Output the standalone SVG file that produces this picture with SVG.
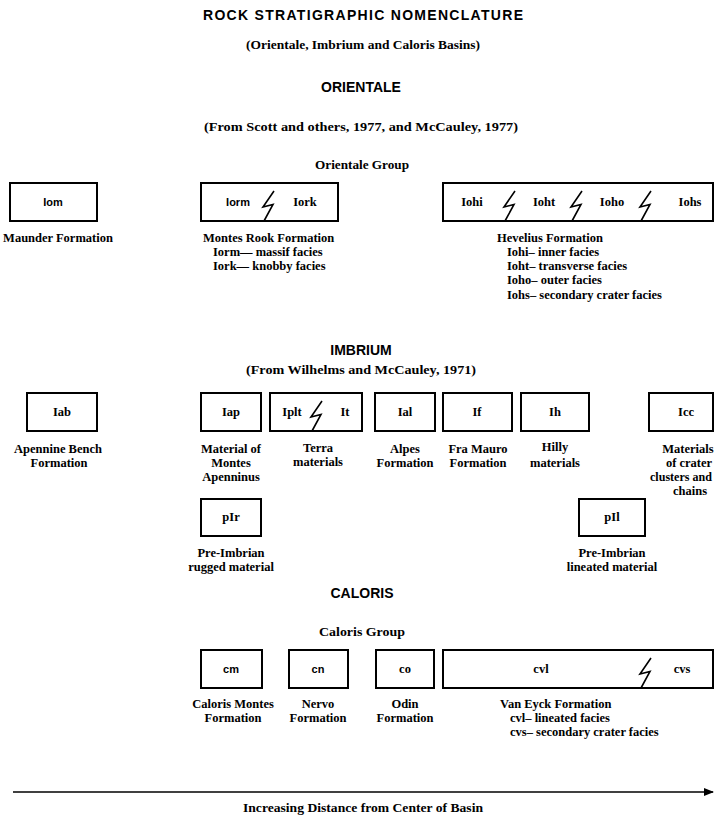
<svg xmlns="http://www.w3.org/2000/svg" xmlns:xlink="http://www.w3.org/1999/xlink" width="714" height="815" viewBox="0 0 714 815">
<style>
.bx{fill:#fff;stroke:#000;stroke-width:2}
.zz{fill:none;stroke:#000;stroke-width:1.6;stroke-linejoin:miter}
.h{font-family:"Liberation Sans",Arial,sans-serif;font-size:14px;font-weight:bold;text-anchor:middle;fill:#000}
.t{font-family:"Liberation Serif","Times New Roman",serif;font-size:12.5px;font-weight:bold;fill:#000}
.st{font-size:13.5px}
.c{text-anchor:middle}
.s{font-family:"Liberation Sans",Arial,sans-serif;font-size:11px;font-weight:bold;text-anchor:middle;fill:#000}
</style>
<defs>
<path id="zz" d="M6,8 L-5,24 L5,21.5 L-4,38" class="zz"/>
<marker id="ah" markerWidth="10" markerHeight="8" refX="9" refY="4" orient="auto" markerUnits="userSpaceOnUse"><path d="M0,0 L10,4 L0,8 Z" fill="#000"/></marker>
</defs>
<rect width="714" height="815" fill="#fff"/>

<text class="h" x="363" y="20" textLength="320">ROCK STRATIGRAPHIC NOMENCLATURE</text>
<text class="t st c" x="363" y="49" textLength="234" lengthAdjust="spacingAndGlyphs">(Orientale, Imbrium and Caloris Basins)</text>
<text class="h" x="361" y="92">ORIENTALE</text>
<text class="t st c" x="361" y="131" textLength="314" lengthAdjust="spacingAndGlyphs">(From Scott and others, 1977, and McCauley, 1977)</text>
<text class="t st c" x="362" y="169" textLength="94" lengthAdjust="spacingAndGlyphs">Orientale Group</text>

<g id="iom">
<rect class="bx" x="10" y="183" width="87" height="38"/>
<text class="s" x="53" y="206">Iom</text>
<text class="t c" x="58" y="242">Maunder Formation</text>
</g>
<g id="montes-rook">
<rect class="bx" x="201" y="183" width="137" height="38"/>
<use xlink:href="#zz" x="268" y="183"/>
<text class="s" x="238" y="206">Iorm</text>
<text class="t c" x="305" y="206">Iork</text>
<text class="t" x="203" y="242">Montes Rook Formation</text>
<text class="t" x="213" y="256">Iorm— massif facies</text>
<text class="t" x="213" y="270">Iork—  knobby facies</text>
</g>
<g id="hevelius">
<rect class="bx" x="443" y="183" width="270" height="38"/>
<use xlink:href="#zz" x="509" y="183"/>
<use xlink:href="#zz" x="576" y="183"/>
<use xlink:href="#zz" x="645" y="183"/>
<text class="t c" x="472" y="206">Iohi</text>
<text class="t c" x="544" y="206">Ioht</text>
<text class="t c" x="612" y="206">Ioho</text>
<text class="t c" x="690" y="206">Iohs</text>
<text class="t" x="497" y="242">Hevelius Formation</text>
<text class="t" x="507" y="256">Iohi–  inner facies</text>
<text class="t" x="507" y="270">Ioht–  transverse facies</text>
<text class="t" x="507" y="284">Ioho– outer facies</text>
<text class="t" x="507" y="299">Iohs–  secondary crater facies</text>
</g>

<text class="h" x="361" y="355">IMBRIUM</text>
<text class="t st c" x="361" y="374" textLength="230" lengthAdjust="spacingAndGlyphs">(From Wilhelms and McCauley, 1971)</text>

<g id="iab">
<rect class="bx" x="27" y="393" width="70" height="38"/>
<text class="t c" x="62" y="416">Iab</text>
<text class="t c" x="58" y="453">Apennine Bench</text>
<text class="t c" x="59" y="467">Formation</text>
</g>
<g id="iap">
<rect class="bx" x="201" y="393" width="60" height="38"/>
<text class="t c" x="231" y="416">Iap</text>
<text class="t c" x="231" y="453">Material of</text>
<text class="t c" x="231" y="467">Montes</text>
<text class="t c" x="231" y="481">Apenninus</text>
</g>
<g id="terra">
<rect class="bx" x="270" y="393" width="92" height="38"/>
<use xlink:href="#zz" x="316" y="393"/>
<text class="t c" x="292" y="416">Iplt</text>
<text class="t c" x="345" y="416">It</text>
<text class="t c" x="318" y="452">Terra</text>
<text class="t c" x="318" y="466">materials</text>
</g>
<g id="ial">
<rect class="bx" x="375" y="393" width="60" height="38"/>
<text class="t c" x="405" y="416">Ial</text>
<text class="t c" x="405" y="453">Alpes</text>
<text class="t c" x="405" y="467">Formation</text>
</g>
<g id="if">
<rect class="bx" x="443" y="393" width="69" height="38"/>
<text class="t c" x="477" y="416">If</text>
<text class="t c" x="478" y="453">Fra Mauro</text>
<text class="t c" x="478" y="467">Formation</text>
</g>
<g id="ih">
<rect class="bx" x="521" y="393" width="68" height="38"/>
<text class="t c" x="555" y="416">Ih</text>
<text class="t c" x="555" y="451">Hilly</text>
<text class="t c" x="555" y="467">materials</text>
</g>
<g id="icc">
<rect class="bx" x="649" y="393" width="64" height="38"/>
<text class="t c" x="686" y="416">Icc</text>
<text class="t c" x="688" y="453">Materials</text>
<text class="t c" x="689" y="467">of crater</text>
<text class="t c" x="681" y="481" textLength="62" lengthAdjust="spacingAndGlyphs">clusters and</text>
<text class="t c" x="690" y="495">chains</text>
</g>
<g id="plr">
<rect class="bx" x="201" y="499" width="60" height="37"/>
<text class="t c" x="231" y="521">pIr</text>
<text class="t c" x="231" y="557">Pre-Imbrian</text>
<text class="t c" x="231" y="571">rugged material</text>
</g>
<g id="pll">
<rect class="bx" x="579" y="499" width="66" height="37"/>
<text class="t c" x="612" y="521">pIl</text>
<text class="t c" x="612" y="557">Pre-Imbrian</text>
<text class="t c" x="612" y="571">lineated material</text>
</g>

<text class="h" x="362" y="598">CALORIS</text>
<text class="t st c" x="362" y="636" textLength="86" lengthAdjust="spacingAndGlyphs">Caloris Group</text>

<g id="cm">
<rect class="bx" x="201" y="650" width="61" height="38"/>
<text class="s" x="231" y="673">cm</text>
<text class="t c" x="233" y="708">Caloris Montes</text>
<text class="t c" x="233" y="722">Formation</text>
</g>
<g id="cn">
<rect class="bx" x="289" y="650" width="59" height="38"/>
<text class="s" x="318" y="673">cn</text>
<text class="t c" x="318" y="708">Nervo</text>
<text class="t c" x="318" y="722">Formation</text>
</g>
<g id="co">
<rect class="bx" x="376" y="650" width="58" height="38"/>
<text class="t c" x="405" y="673">co</text>
<text class="t c" x="405" y="708">Odin</text>
<text class="t c" x="405" y="722">Formation</text>
</g>
<g id="van-eyck">
<rect class="bx" x="443" y="650" width="270" height="38"/>
<use xlink:href="#zz" x="645" y="650"/>
<text class="t c" x="541" y="673">cvl</text>
<text class="t c" x="682" y="673">cvs</text>
<text class="t" x="500" y="708">Van Eyck Formation</text>
<text class="t" x="510" y="722">cvl–  lineated facies</text>
<text class="t" x="510" y="736">cvs– secondary crater facies</text>
</g>

<g id="connectors">
<line x1="13" y1="792" x2="713" y2="792" stroke="#000" stroke-width="1.6" marker-end="url(#ah)"/>
</g>
<text class="t st c" x="363" y="812" textLength="240" lengthAdjust="spacingAndGlyphs">Increasing Distance from Center of Basin</text>
</svg>
